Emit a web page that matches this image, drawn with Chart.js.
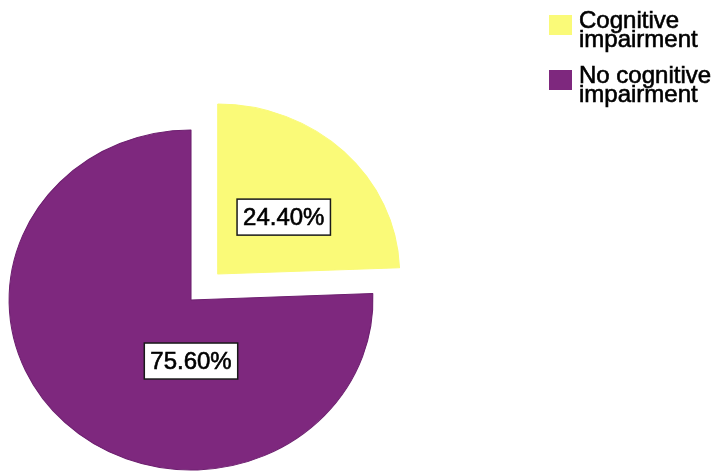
<!DOCTYPE html>
<html><head><meta charset="utf-8">
<script src="https://cdn.jsdelivr.net/npm/chart.js@4.4.1/dist/chart.umd.min.js"></script>
<style>html,body{margin:0;padding:0;background:#fff;}#wrap{width:728px;height:472px;position:relative;overflow:hidden}</style>
</head><body><div id="wrap"><canvas id="c" width="728" height="472"></canvas></div>
<script>
// ---- data ----
const categories = [['Cognitive', 'impairment'], ['No cognitive', 'impairment']];
const percentValues = [24.40, 75.60];
const valueLabels = percentValues.map(v => v.toFixed(2) + '%');

// ---- styles / layout ----
const sliceColors = ['#FAFA78', '#7E287E'];
const sliceBorders = ['#FAFA78', '#6E2070'];
const sliceOffsets = [144, 0]; // Chart.js draws offset / 4
const labelAnchor = [[0.363, -0.335], [0, 0.359]]; // in radius units, relative to slice centre
const H_STRETCH = 1.07;
const FONT = '"Liberation Sans", Arial, sans-serif';

function heavyText(ctx, txt, x, y) {
  ctx.lineWidth = 0.6;
  ctx.strokeStyle = '#000000';
  ctx.strokeText(txt, x, y);
  ctx.fillText(txt, x, y);
}

const piePlugin = {
  id: 'pieDecor',
  beforeDatasetsDraw(chart) {
    const arc = chart.getDatasetMeta(0).data[0];
    const ctx = chart.ctx;
    ctx.save();
    ctx.translate(arc.x, 0);
    ctx.scale(H_STRETCH, 1);
    ctx.translate(-arc.x, 0);
  },
  afterDatasetsDraw(chart) {
    const ctx = chart.ctx;
    ctx.restore();
    const meta = chart.getDatasetMeta(0);
    ctx.save();
    ctx.font = '24px ' + FONT;
    ctx.textAlign = 'center';
    ctx.textBaseline = 'middle';
    meta.data.forEach((arc, i) => {
      const mid = (arc.startAngle + arc.endAngle) / 2;
      const off = (arc.options.offset || 0) / 4;
      const ax = arc.x + Math.cos(mid) * off;
      const ay = arc.y + Math.sin(mid) * off;
      const r = arc.outerRadius;
      const lx = ax + labelAnchor[i][0] * r;
      const ly = ay + labelAnchor[i][1] * r;
      const vx = arc.x + (lx - arc.x) * H_STRETCH;
      const txt = valueLabels[i];
      const w = ctx.measureText(txt).width + 12;
      const h = 36;
      ctx.fillStyle = '#ffffff';
      ctx.fillRect(vx - w / 2, ly - h / 2, w, h);
      ctx.lineWidth = 1.5;
      ctx.strokeStyle = '#1a1a1a';
      ctx.strokeRect(vx - w / 2, ly - h / 2, w, h);
      ctx.fillStyle = '#000000';
      heavyText(ctx, txt, vx, ly + 1);
    });
    ctx.restore();
  },
  afterDraw(chart) {
    const ctx = chart.ctx;
    const ds = chart.data.datasets[0];
    ctx.save();
    ctx.font = '24px ' + FONT;
    ctx.textAlign = 'left';
    ctx.textBaseline = 'alphabetic';
    chart.data.labels.forEach((lab, i) => {
      const y0 = 10 + i * 55;
      ctx.fillStyle = ds.backgroundColor[i];
      ctx.fillRect(549, y0 + 5, 23, 20);
      ctx.fillStyle = '#000000';
      lab.forEach((line, k) => heavyText(ctx, line, 579, y0 + 18 + k * 19));
    });
    ctx.restore();
  }
};

new Chart(document.getElementById('c'), {
  type: 'pie',
  data: {
    labels: categories,
    datasets: [{
      data: percentValues,
      backgroundColor: sliceColors,
      borderColor: sliceBorders,
      borderWidth: 1,
      offset: sliceOffsets,
      radius: 170
    }]
  },
  options: {
    responsive: false,
    animation: false,
    layout: { padding: { left: 0, right: 346, top: 128, bottom: 0 } },
    plugins: { legend: { display: false }, tooltip: { enabled: false } }
  },
  plugins: [piePlugin]
});
</script>
</body></html>
